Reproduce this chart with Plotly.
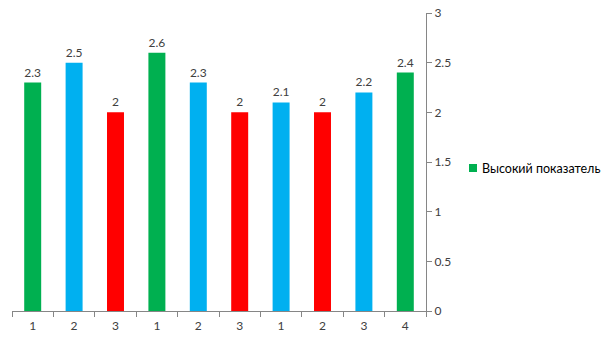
import plotly.graph_objects as go

# Category labels along the x axis and bar values
labels = ["1", "2", "3", "1", "2", "3", "1", "2", "3", "4"]
values = [2.3, 2.5, 2.0, 2.6, 2.3, 2.0, 2.1, 2.0, 2.2, 2.4]
groups = ["high", "mid", "low", "high", "mid", "low", "mid", "low", "mid", "high"]

legend_name = "Высокий показатель"
colors = {"high": "#00B050", "mid": "#00B0F0", "low": "#FF0000"}

positions = list(range(len(labels)))

W, H = 605, 340
ML, MR, MT, MB = 12, 179, 13, 29
plot_w = W - ML - MR
plot_h = H - MT - MB

fig = go.Figure()
for g in ["high", "mid", "low"]:
    xs = [p for p, gg in zip(positions, groups) if gg == g]
    ys = [v for v, gg in zip(values, groups) if gg == g]
    fig.add_trace(go.Bar(
        x=xs, y=ys,
        name=legend_name if g == "high" else g,
        showlegend=False,
        marker=dict(color=colors[g], line=dict(width=0)),
        width=0.41,
        text=[f"{v:g}" for v in ys],
        textposition="outside",
        textfont=dict(size=12, color="#404040"),
        cliponaxis=False,
    ))

# Legend entry for the green series, placed right of the axis
def px_x(px):
    return (px - ML) / plot_w

def px_y(py):
    return (H - MB - py) / plot_h

fig.add_shape(type="rect", xref="paper", yref="paper",
              x0=px_x(469), x1=px_x(477), y0=px_y(172), y1=px_y(164),
              fillcolor=colors["high"], line=dict(width=0))
fig.add_annotation(xref="paper", yref="paper", x=px_x(480), y=px_y(168),
                   xanchor="left", yanchor="middle", showarrow=False,
                   text=legend_name, font=dict(size=12.5, color="#000000"))

axis_color = "#868686"
fig.update_layout(
    width=W, height=H,
    margin=dict(l=ML, r=MR, t=MT, b=MB, autoexpand=False),
    paper_bgcolor="white", plot_bgcolor="white",
    barmode="overlay",
    font=dict(family="Lato, Open Sans, sans-serif", size=12, color="#404040"),
    showlegend=False,
    xaxis=dict(
        range=[-0.5, len(labels) - 0.5],
        tickmode="array", tickvals=positions, ticktext=labels,
        ticks="", showgrid=False, zeroline=False,
        showline=True, linecolor=axis_color, linewidth=1,
        minor=dict(tickvals=[p - 0.5 for p in positions] + [len(labels) - 0.5],
                   ticks="outside", ticklen=5, tickcolor=axis_color, showgrid=False),
        ticklabelstandoff=4,
        tickfont=dict(size=12, color="#404040"),
    ),
    yaxis=dict(
        range=[0, 3], dtick=0.5, side="right",
        ticks="outside", ticklen=5, tickcolor=axis_color,
        showgrid=False, zeroline=False,
        showline=True, linecolor=axis_color, linewidth=1,
        tickfont=dict(size=12, color="#404040"),
    ),
)

fig.write_html("out.html")
